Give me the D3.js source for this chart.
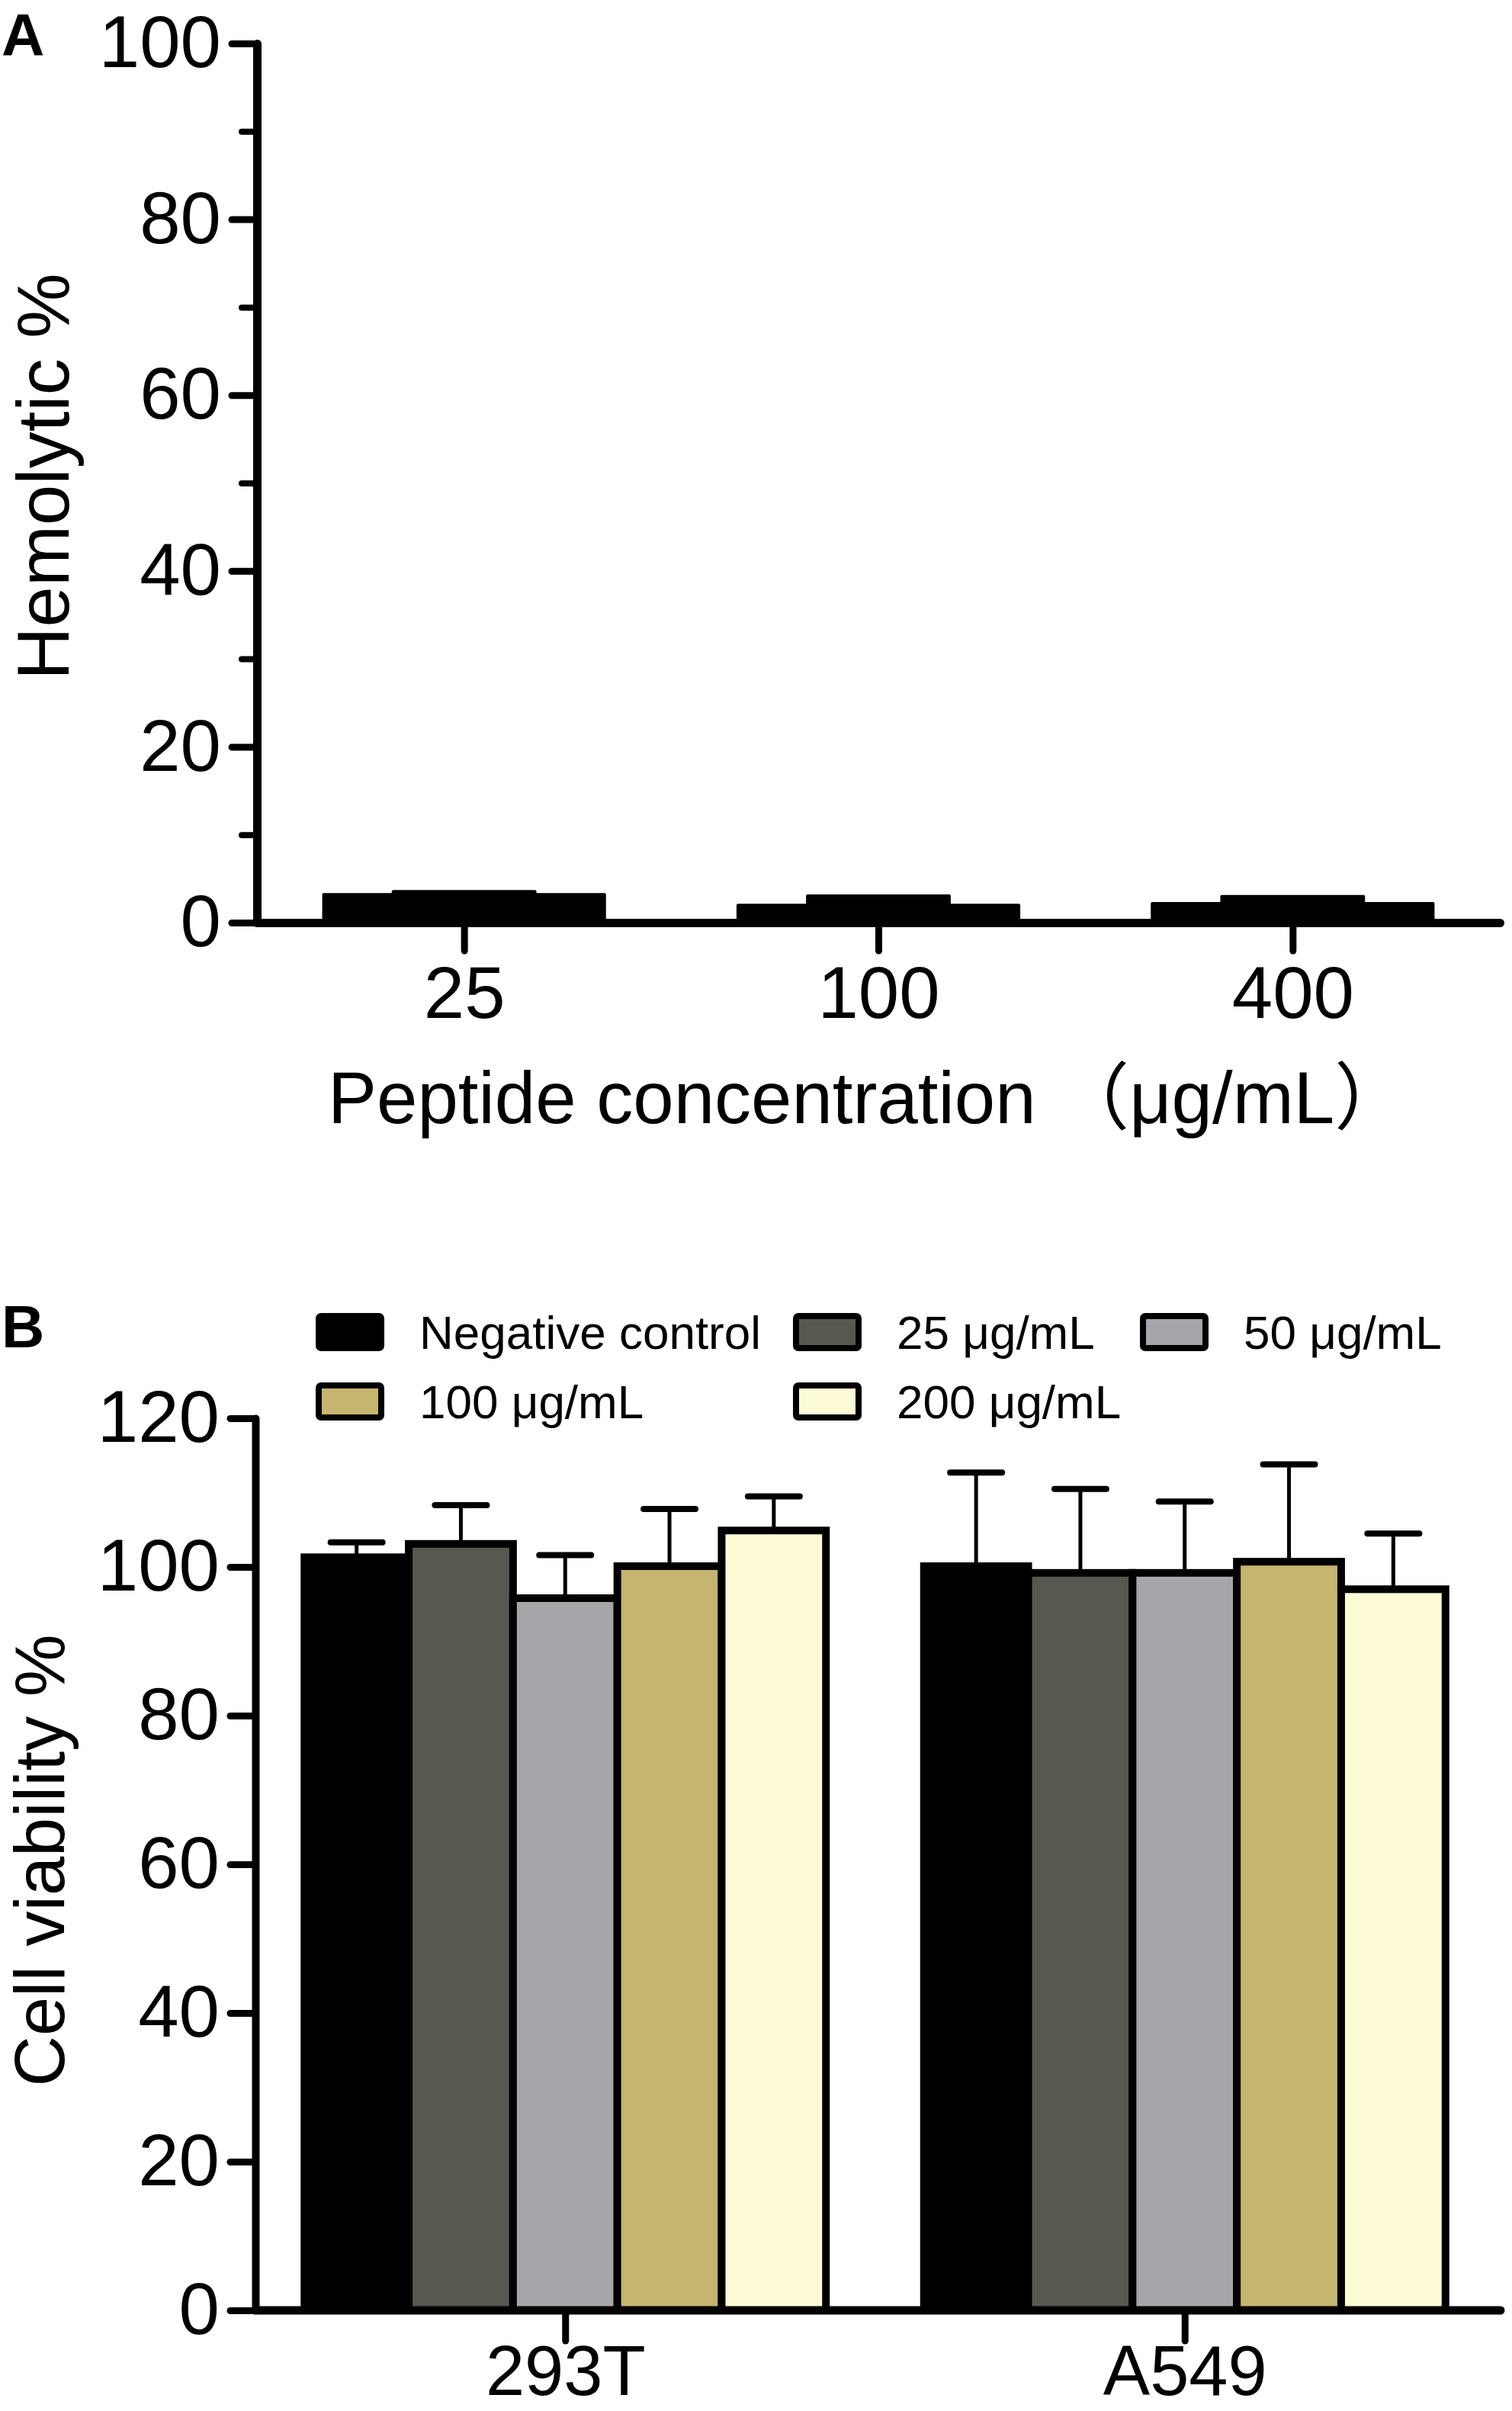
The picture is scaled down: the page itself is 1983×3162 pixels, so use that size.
<!DOCTYPE html>
<html>
<head>
<meta charset="utf-8">
<script src="https://cdn.jsdelivr.net/npm/d3@7"></script>
<style>
  html, body { margin: 0; padding: 0; background: #fff; }
  svg { display: block; }
  text { font-family: "Liberation Sans", Arial, "Noto Sans CJK SC", sans-serif; fill: #000; }
</style>
</head>
<body>
<script>
// ---------- Data: panel A (hemolysis) ----------
const hemoCategories = ["25", "100", "400"];
const hemoSeries = ["rep1", "rep2", "rep3"];
const hemoValues = [
  [3.35, 3.7, 3.35],
  [2.15, 3.2, 2.15],
  [2.35, 3.15, 2.35]
];
const hemoYTicks = [0, 20, 40, 60, 80, 100];
const hemoYMinor = [10, 30, 50, 70, 90];

// ---------- Data: panel B (cell viability) ----------
const cellTypes = ["293T", "A549"];
const doseSeries = ["Negative control", "25 μg/mL", "50 μg/mL", "100 μg/mL", "200 μg/mL"];
const viabilityMean = [
  [101.3, 103.1, 95.8, 100.1, 104.9],
  [100.1, 99.2, 99.2, 100.7, 97.0]
];
const viabilitySD = [
  [2.0, 5.2, 5.8, 7.7, 4.6],
  [12.6, 11.3, 9.6, 13.1, 7.5]
];
const viabYTicks = [0, 20, 40, 60, 80, 100, 120];

// ---------- Styles ----------
const doseColors = ["#000000", "#57584f", "#a6a6aa", "#c6b56e", "#fcfbd6"];
const W = 1983, H = 3162;

const svg = d3.select("body").append("svg").attr("width", W).attr("height", H);

function styleAxis(g, sw) {
  g.selectAll(".domain").attr("stroke", "#000").attr("stroke-width", sw).attr("stroke-linecap", "round");
  g.selectAll(".tick line").attr("stroke", "#000").attr("stroke-width", 9).attr("stroke-linecap", "round");
  g.selectAll(".tick text").attr("font-size", 96).attr("font-family", "\"Liberation Sans\", Arial, sans-serif");
}

// ================= Panel A =================
const yA = d3.scaleLinear().domain([0, 100]).range([1210, 57]);
const xA = d3.scalePoint().domain(hemoCategories).range([337, 1967]).padding(0.5);
const groupWA = xA.step() * 0.685;
const xAi = d3.scaleBand().domain(hemoSeries).range([-groupWA / 2, groupWA / 2]);
const widthMultA = [1, 1.53, 1];

const gA = svg.append("g");
hemoCategories.forEach((cat, ci) => {
  const order = [0, 2, 1];
  order.forEach(si => {
    const cx = xA(cat) + xAi(hemoSeries[si]) + xAi.bandwidth() / 2;
    const w = xAi.bandwidth() * widthMultA[si];
    gA.append("rect")
      .attr("x", cx - w / 2)
      .attr("y", yA(hemoValues[ci][si]))
      .attr("width", w)
      .attr("height", yA(0) - yA(hemoValues[ci][si]))
      .attr("fill", "#000")
      .attr("rx", 2);
  });
});

// minor y ticks
const gAyMinor = svg.append("g").attr("transform", "translate(337,0)")
  .call(d3.axisLeft(yA).tickValues(hemoYMinor).tickSize(20).tickFormat(""));
gAyMinor.select(".domain").remove();
gAyMinor.selectAll(".tick line").attr("stroke", "#000").attr("stroke-width", 8).attr("stroke-linecap", "round");

const gAy = svg.append("g").attr("transform", "translate(337,0)")
  .call(d3.axisLeft(yA).tickValues(hemoYTicks).tickSize(33).tickSizeOuter(0).tickPadding(14));
styleAxis(gAy, 11);

const gAx = svg.append("g").attr("transform", `translate(0,${yA(0)})`)
  .call(d3.axisBottom(xA).tickSize(37).tickSizeOuter(0).tickPadding(20));
styleAxis(gAx, 11);

svg.append("text").attr("x", 2).attr("y", 73).attr("font-size", 78).attr("font-weight", "bold").text("A");

svg.append("text")
  .attr("transform", "translate(90,625) rotate(-90)")
  .attr("text-anchor", "middle").attr("font-size", 96)
  .text("Hemolytic %");

svg.append("text")
  .attr("x", 1138).attr("y", 1473)
  .attr("text-anchor", "middle").attr("font-size", 96)
  .text("Peptide concentration （μg/mL）");

// ================= Panel B =================
const yB = d3.scaleLinear().domain([0, 120]).range([3030, 1860]);
const xB = d3.scalePoint().domain(cellTypes).range([335, 1960]).padding(0.5);
const groupWB = 684;
const xBi = d3.scaleBand().domain(doseSeries).range([-groupWB / 2, groupWB / 2]);

const gB = svg.append("g");
cellTypes.forEach((cell, ci) => {
  doseSeries.forEach((s, si) => {
    const x0 = xB(cell) + xBi(s);
    const v = viabilityMean[ci][si];
    gB.append("rect")
      .attr("x", x0).attr("y", yB(v))
      .attr("width", xBi.bandwidth())
      .attr("height", yB(0) - yB(v))
      .attr("fill", doseColors[si])
      .attr("stroke", "#000").attr("stroke-width", 10);
  });
});
// error bars
cellTypes.forEach((cell, ci) => {
  doseSeries.forEach((s, si) => {
    const cx = xB(cell) + xBi(s) + xBi.bandwidth() / 2;
    const v = viabilityMean[ci][si], e = viabilitySD[ci][si];
    gB.append("line")
      .attr("x1", cx).attr("x2", cx)
      .attr("y1", yB(v)).attr("y2", yB(v + e))
      .attr("stroke", "#000").attr("stroke-width", 5);
    gB.append("line")
      .attr("x1", cx - 34).attr("x2", cx + 34)
      .attr("y1", yB(v + e)).attr("y2", yB(v + e))
      .attr("stroke", "#000").attr("stroke-width", 8).attr("stroke-linecap", "round");
  });
});

const gBy = svg.append("g").attr("transform", "translate(335,0)")
  .call(d3.axisLeft(yB).tickValues(viabYTicks).tickSize(33).tickSizeOuter(0).tickPadding(14));
styleAxis(gBy, 10);

const gBx = svg.append("g").attr("transform", `translate(0,${yB(0)})`)
  .call(d3.axisBottom(xB).tickSize(40).tickSizeOuter(0).tickPadding(6));
styleAxis(gBx, 11);
gBx.selectAll(".tick text").attr("font-size", 92);
gBx.select(".domain").remove();
svg.append("line")
  .attr("x1", 335).attr("x2", 1968)
  .attr("y1", yB(0)).attr("y2", yB(0))
  .attr("stroke", "#000").attr("stroke-width", 11).attr("stroke-linecap", "round");

svg.append("text").attr("x", 2).attr("y", 1767).attr("font-size", 78).attr("font-weight", "bold").text("B");

svg.append("text")
  .attr("transform", "translate(84,2440) rotate(-90)")
  .attr("text-anchor", "middle").attr("font-size", 92)
  .text("Cell viability %");

// legend
const legCols = [414, 1040, 1495];
const legRows = [1747, 1838];
const gL = svg.append("g");
doseSeries.forEach((s, i) => {
  const row = i < 3 ? 0 : 1;
  const col = i < 3 ? i : i - 3;
  const x = legCols[col], yc = legRows[row];
  gL.append("rect")
    .attr("x", x + 4).attr("y", yc - 21)
    .attr("width", 82).attr("height", 42)
    .attr("rx", 3)
    .attr("fill", doseColors[i]).attr("stroke", "#000").attr("stroke-width", 8);
  gL.append("text")
    .attr("x", x + 136).attr("y", yc + 22)
    .attr("font-size", 62)
    .text(s);
});
</script>
</body>
</html>
